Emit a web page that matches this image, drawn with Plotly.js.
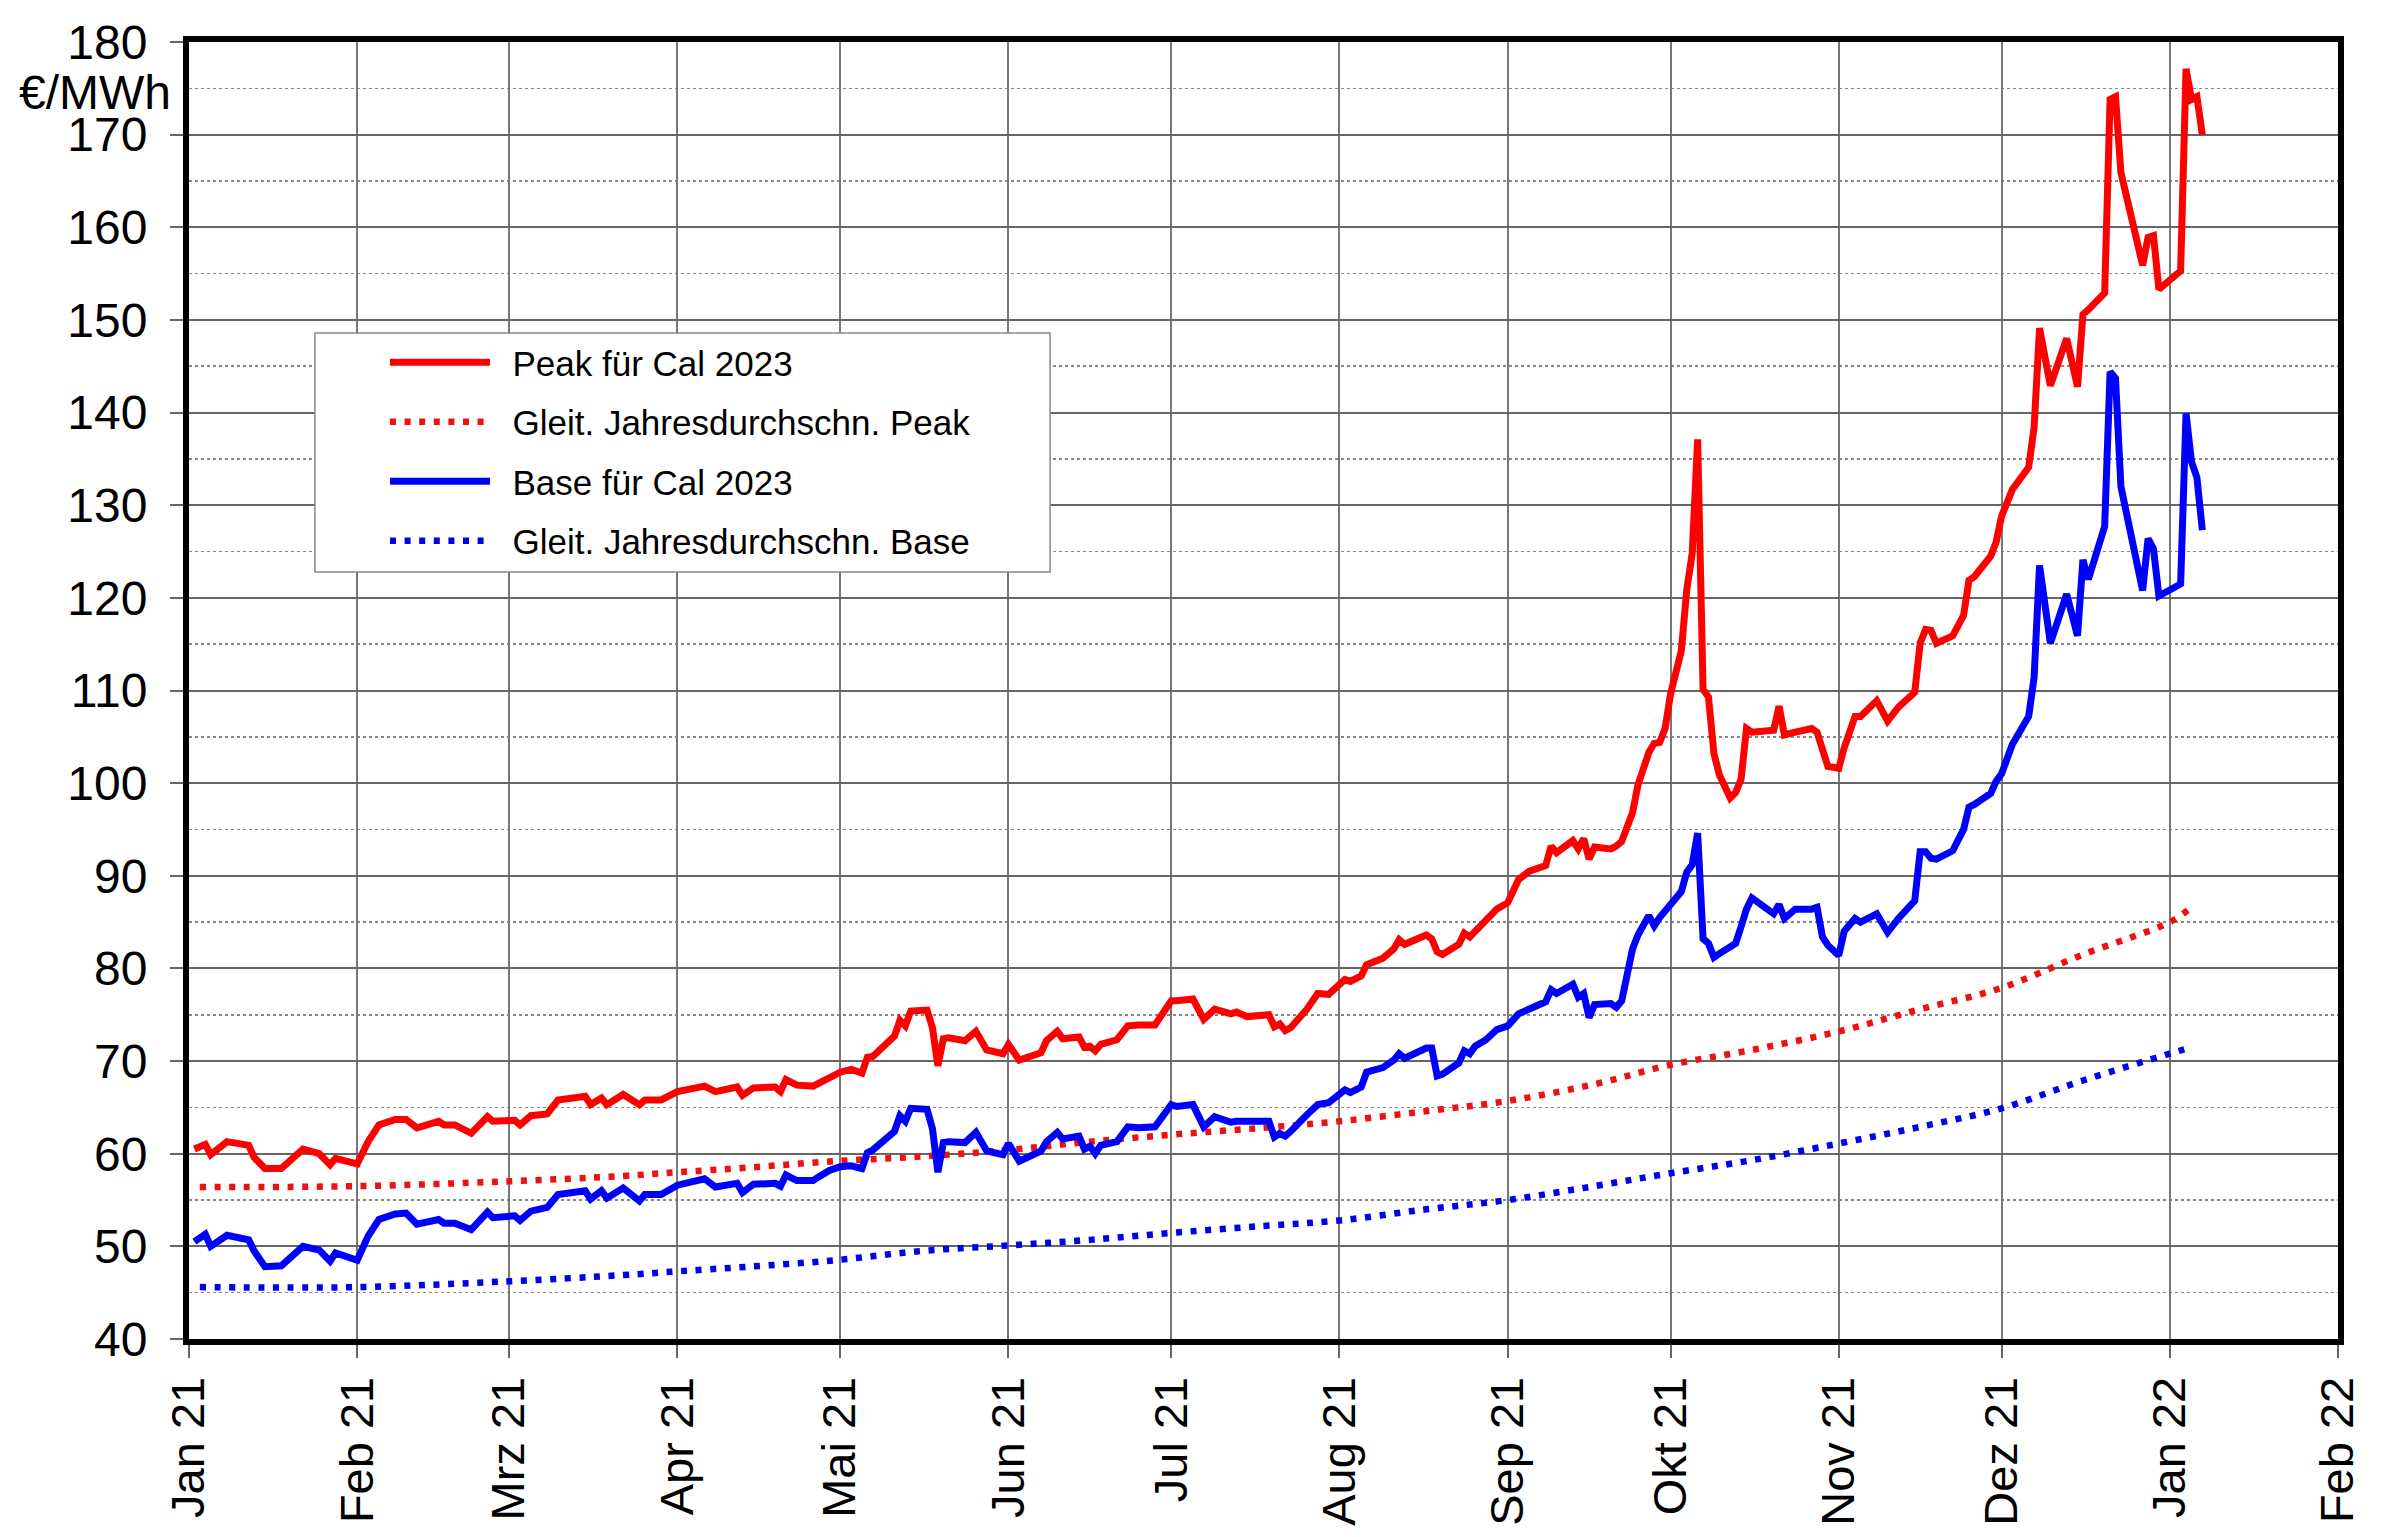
<!DOCTYPE html>
<html>
<head>
<meta charset="utf-8">
<script src="https://cdn.plot.ly/plotly-3.0.1.min.js"></script>
<style>
  html, body { margin: 0; padding: 0; background: #fff; }
  #chart { width: 2400px; height: 1537px; }
</style>
</head>
<body>
<div id="chart"></div>
<script>
// daily settlement, €/MWh
var dates = [
  '2021-01-02','2021-01-04','2021-01-05','2021-01-08','2021-01-12','2021-01-13','2021-01-15','2021-01-18',
  '2021-01-22','2021-01-25','2021-01-27','2021-01-28','2021-02-01','2021-02-03','2021-02-05','2021-02-08',
  '2021-02-10','2021-02-12','2021-02-16','2021-02-17','2021-02-19','2021-02-22','2021-02-25','2021-02-26',
  '2021-03-02','2021-03-03','2021-03-05','2021-03-08','2021-03-10','2021-03-15','2021-03-16','2021-03-18',
  '2021-03-19','2021-03-22','2021-03-25','2021-03-26','2021-03-29','2021-04-01','2021-04-06','2021-04-08',
  '2021-04-12','2021-04-13','2021-04-15','2021-04-19','2021-04-20','2021-04-21','2021-04-23','2021-04-26',
  '2021-04-27','2021-04-29','2021-05-01','2021-05-03','2021-05-05','2021-05-06','2021-05-07','2021-05-11',
  '2021-05-12','2021-05-13','2021-05-14','2021-05-17','2021-05-18','2021-05-19','2021-05-20','2021-05-21',
  '2021-05-24','2021-05-26','2021-05-28','2021-05-31','2021-06-01','2021-06-03','2021-06-07','2021-06-08',
  '2021-06-10','2021-06-11','2021-06-14','2021-06-15','2021-06-16','2021-06-17','2021-06-18','2021-06-21',
  '2021-06-23','2021-06-25','2021-06-28','2021-07-01','2021-07-02','2021-07-05','2021-07-07','2021-07-09',
  '2021-07-12','2021-07-13','2021-07-15','2021-07-19','2021-07-20','2021-07-21','2021-07-22','2021-07-23',
  '2021-07-26','2021-07-28','2021-07-30','2021-08-02','2021-08-03','2021-08-05','2021-08-06','2021-08-09',
  '2021-08-11','2021-08-12','2021-08-13','2021-08-17','2021-08-18','2021-08-19','2021-08-20','2021-08-23',
  '2021-08-24','2021-08-25','2021-08-26','2021-08-28','2021-08-30','2021-09-01','2021-09-03','2021-09-05',
  '2021-09-08','2021-09-09','2021-09-10','2021-09-13','2021-09-14','2021-09-15','2021-09-16','2021-09-17',
  '2021-09-20','2021-09-21','2021-09-22','2021-09-24','2021-09-25','2021-09-27','2021-09-28','2021-09-29',
  '2021-09-30','2021-10-01','2021-10-03','2021-10-04','2021-10-05','2021-10-06','2021-10-07','2021-10-08',
  '2021-10-09','2021-10-10','2021-10-12','2021-10-13','2021-10-14','2021-10-15','2021-10-16','2021-10-18',
  '2021-10-20','2021-10-21','2021-10-22','2021-10-24','2021-10-27','2021-10-28','2021-10-29','2021-10-30',
  '2021-11-01','2021-11-02','2021-11-04','2021-11-05','2021-11-08','2021-11-10','2021-11-12','2021-11-15',
  '2021-11-16','2021-11-17','2021-11-18','2021-11-19','2021-11-22','2021-11-24','2021-11-25','2021-11-26',
  '2021-11-29','2021-11-30','2021-12-01','2021-12-03','2021-12-06','2021-12-07','2021-12-08','2021-12-10',
  '2021-12-13','2021-12-15','2021-12-16','2021-12-17','2021-12-20','2021-12-21','2021-12-22','2021-12-23',
  '2021-12-27','2021-12-28','2021-12-29','2021-12-30','2022-01-03','2022-01-04','2022-01-05','2022-01-06',
  '2022-01-07'
];

var peak = [
  60.5, 61.0, 59.9, 61.3, 60.9, 59.6, 58.4, 58.4,
  60.5, 60.0, 58.8, 59.5, 58.9, 61.3, 63.1, 63.7,
  63.7, 62.8, 63.5, 63.1, 63.1, 62.2, 64.0, 63.5,
  63.6, 63.1, 64.1, 64.3, 65.8, 66.2, 65.3, 66.0,
  65.3, 66.4, 65.3, 65.8, 65.8, 66.7, 67.3, 66.7,
  67.2, 66.3, 67.1, 67.2, 66.7, 68.0, 67.4, 67.3,
  67.6, 68.3, 68.8, 69.1, 68.7, 70.4, 70.5, 72.7,
  74.4, 73.8, 75.4, 75.5, 73.6, 69.5, 72.4, 72.5,
  72.2, 73.2, 71.2, 70.8, 71.8, 70.1, 70.9, 72.2,
  73.2, 72.4, 72.6, 71.5, 71.6, 71.1, 71.8, 72.3,
  73.8, 73.9, 73.9, 76.5, 76.5, 76.7, 74.5, 75.6,
  75.1, 75.3, 74.8, 75.0, 73.7, 74.0, 73.3, 73.6,
  75.6, 77.3, 77.2, 78.8, 78.6, 79.2, 80.4, 81.1,
  82.1, 83.1, 82.6, 83.6, 83.2, 81.8, 81.5, 82.6,
  83.8, 83.4, 84.0, 85.1, 86.4, 87.1, 89.6, 90.5,
  91.1, 93.2, 92.5, 93.8, 92.9, 94.0, 91.8, 93.1,
  92.9, 93.2, 93.7, 96.8, 99.8, 103.3, 104.3, 104.4,
  105.9, 109.6, 114.3, 120.9, 124.8, 137.1, 110.1, 109.3,
  103.2, 100.9, 98.4, 99.0, 100.4, 105.9, 105.5, 105.6,
  105.7, 108.3, 105.2, 105.5, 105.9, 105.5, 103.9, 101.8,
  101.6, 103.8, 107.2, 107.2, 108.9, 106.7, 108.2, 109.8,
  115.1, 116.6, 116.5, 115.1, 115.9, 118.1, 121.9, 122.3,
  124.5, 126.0, 128.8, 131.7, 134.1, 138.4, 149.1, 142.9,
  148.0, 142.8, 150.6, 151.1, 152.9, 173.8, 174.1, 165.9,
  155.9, 158.9, 159.1, 153.3, 155.3, 177.1, 173.8, 174.1,
  170.0
];

var base = [
  50.5, 51.3, 50.0, 51.2, 50.7, 49.5, 47.8, 47.9,
  50.0, 49.6, 48.4, 49.3, 48.5, 51.1, 52.9, 53.5,
  53.6, 52.4, 52.9, 52.5, 52.5, 51.8, 53.7, 53.1,
  53.3, 52.8, 53.8, 54.2, 55.6, 56.0, 55.1, 56.0,
  55.2, 56.3, 54.9, 55.6, 55.6, 56.6, 57.3, 56.4,
  56.8, 55.8, 56.7, 56.8, 56.5, 57.7, 57.1, 57.1,
  57.5, 58.2, 58.6, 58.7, 58.4, 60.1, 60.4, 62.4,
  64.1, 63.5, 64.9, 64.8, 62.7, 58.0, 61.2, 61.3,
  61.2, 62.3, 60.3, 59.9, 61.1, 59.2, 60.3, 61.3,
  62.3, 61.6, 61.9, 60.5, 60.8, 60.0, 60.9, 61.3,
  62.9, 62.8, 62.9, 65.3, 65.1, 65.3, 62.9, 64.0,
  63.4, 63.5, 63.5, 63.5, 61.8, 62.2, 61.9, 62.4,
  64.2, 65.3, 65.5, 66.9, 66.6, 67.2, 68.8, 69.3,
  70.1, 70.8, 70.3, 71.4, 71.4, 68.4, 68.6, 69.8,
  71.1, 70.8, 71.6, 72.3, 73.4, 73.8, 75.1, 75.7,
  76.4, 77.7, 77.3, 78.3, 76.9, 77.3, 74.7, 76.1,
  76.2, 75.8, 76.5, 82.1, 83.6, 85.7, 84.6, 85.5,
  86.2, 86.8, 88.3, 90.4, 91.2, 94.6, 83.2, 82.7,
  81.2, 81.6, 82.2, 82.7, 84.5, 86.4, 87.6, 86.8,
  85.9, 86.9, 85.4, 86.4, 86.4, 86.6, 83.4, 82.5,
  81.4, 84.0, 85.4, 85.0, 85.9, 83.9, 85.4, 87.3,
  92.6, 92.6, 91.9, 91.8, 92.7, 95.0, 97.4, 97.7,
  98.9, 100.2, 101.0, 104.2, 107.2, 111.4, 123.5, 115.1,
  120.4, 115.9, 124.1, 122.0, 127.7, 144.4, 143.7, 132.0,
  120.8, 126.4, 125.3, 120.2, 121.5, 139.9, 134.7, 133.0,
  127.3
];

// rolling one-year averages
var avgDates = [
  '2021-01-03','2021-02-01','2021-02-28','2021-03-22','2021-04-01','2021-04-14','2021-04-30','2021-05-16',
  '2021-06-01','2021-06-16','2021-07-02','2021-07-18','2021-08-01','2021-08-17','2021-09-01','2021-09-17',
  '2021-10-01','2021-10-16','2021-11-01','2021-11-16','2021-12-01','2021-12-16','2022-01-01','2022-01-05'
];
var peakAvg = [
  56.4, 56.5, 57.0, 57.6, 58.0, 58.5, 59.2, 59.7,
  60.4, 61.3, 62.1, 62.8, 63.5, 64.6, 65.7, 67.5,
  69.6, 71.2, 73.2, 75.6, 77.9, 81.5, 85.0, 86.6
];
var baseAvg = [
  45.6, 45.6, 46.2, 46.9, 47.3, 47.8, 48.5, 49.5,
  50.1, 50.7, 51.5, 52.2, 52.8, 54.0, 55.0, 56.5,
  57.9, 59.3, 61.1, 62.9, 64.9, 67.9, 70.8, 71.5
];

var monthTicks = ['2021-01-01','2021-02-01','2021-03-01','2021-04-01','2021-05-01','2021-06-01','2021-07-01',
  '2021-08-01','2021-09-01','2021-10-01','2021-11-01','2021-12-01','2022-01-01','2022-02-01'];
var monthLabels = ['Jan 21','Feb 21','Mrz 21','Apr 21','Mai 21','Jun 21','Jul 21',
  'Aug 21','Sep 21','Okt 21','Nov 21','Dez 21','Jan 22','Feb 22'];

var seriesNames = ['Peak für Cal 2023', 'Gleit. Jahresdurchschn. Peak', 'Base für Cal 2023', 'Gleit. Jahresdurchschn. Base'];

var FONT = 'Liberation Sans, Arial, Helvetica, sans-serif';
var dotDash = '6px,8.6px';
var gap = '\u2002';   // extra room between legend sample and label

var data = [
  { x: dates, y: peak, name: gap + seriesNames[0], type: 'scatter', mode: 'lines', legendgroup: 'a',
    line: { color: '#ff0000', width: 7 } },
  { x: avgDates, y: peakAvg, name: gap + seriesNames[1], type: 'scatter', mode: 'lines', legendgroup: 'b',
    line: { color: '#f01010', width: 6.5, dash: dotDash, shape: 'spline' } },
  { x: dates, y: base, name: gap + seriesNames[2], type: 'scatter', mode: 'lines', legendgroup: 'c',
    line: { color: '#0000ff', width: 7 } },
  { x: avgDates, y: baseAvg, name: gap + seriesNames[3], type: 'scatter', mode: 'lines', legendgroup: 'd',
    line: { color: '#0000ee', width: 6.5, dash: dotDash, shape: 'spline' } }
];

var layout = {
  width: 2400,
  height: 1537,
  paper_bgcolor: '#ffffff',
  plot_bgcolor: '#ffffff',
  font: { family: FONT, size: 46, color: '#000' },
  margin: { l: 189, r: 62, t: 42, b: 198 },
  showlegend: true,
  legend: {
    x: 0.0912, y: 0.7757, xanchor: 'left', yanchor: 'top',
    bgcolor: 'rgba(0,0,0,0)', borderwidth: 0,
    font: { family: FONT, size: 35, color: '#000' },
    itemwidth: 100,
    tracegroupgap: 11
  },
  xaxis: {
    type: 'date',
    range: ['2021-01-01', '2022-02-01'],
    tickmode: 'array',
    tickvals: monthTicks,
    ticktext: monthLabels,
    tickangle: -90,
    tickfont: { family: FONT, size: 47, color: '#000' },
    ticks: 'outside', ticklen: 13, tickwidth: 2, tickcolor: '#666',
    showgrid: true, gridcolor: '#777777', gridwidth: 2,
    showline: true, linecolor: '#000', linewidth: 6, mirror: true,
    zeroline: false
  },
  yaxis: {
    range: [40, 180],
    tickmode: 'linear', tick0: 40, dtick: 10,
    tickfont: { family: FONT, size: 48, color: '#000' },
    ticks: 'outside', ticklen: 13, tickwidth: 2, tickcolor: '#666',
    ticklabelstandoff: 13,
    showgrid: true, gridcolor: '#666666', gridwidth: 2,
    minor: { tick0: 45, dtick: 10, showgrid: true, gridcolor: '#888888', gridwidth: 1.6, griddash: 'dot', ticks: '' },
    showline: true, linecolor: '#000', linewidth: 6, mirror: true,
    zeroline: false
  },
  shapes: [
    { type: 'rect', xref: 'paper', yref: 'paper', layer: 'above',
      x0: 0.0586, x1: 0.4007, y0: 0.5914, y1: 0.7756,
      fillcolor: '#ffffff', line: { color: '#888', width: 1.5 } }
  ],
  annotations: [
    { text: '€/MWh', xref: 'paper', yref: 'y', x: -0.0074, y: 174.6, xanchor: 'right', yanchor: 'middle',
      showarrow: false, font: { family: FONT, size: 48, color: '#000' } }
  ]
};

Plotly.newPlot('chart', data, layout, { staticPlot: true, displayModeBar: false });
</script>
</body>
</html>
